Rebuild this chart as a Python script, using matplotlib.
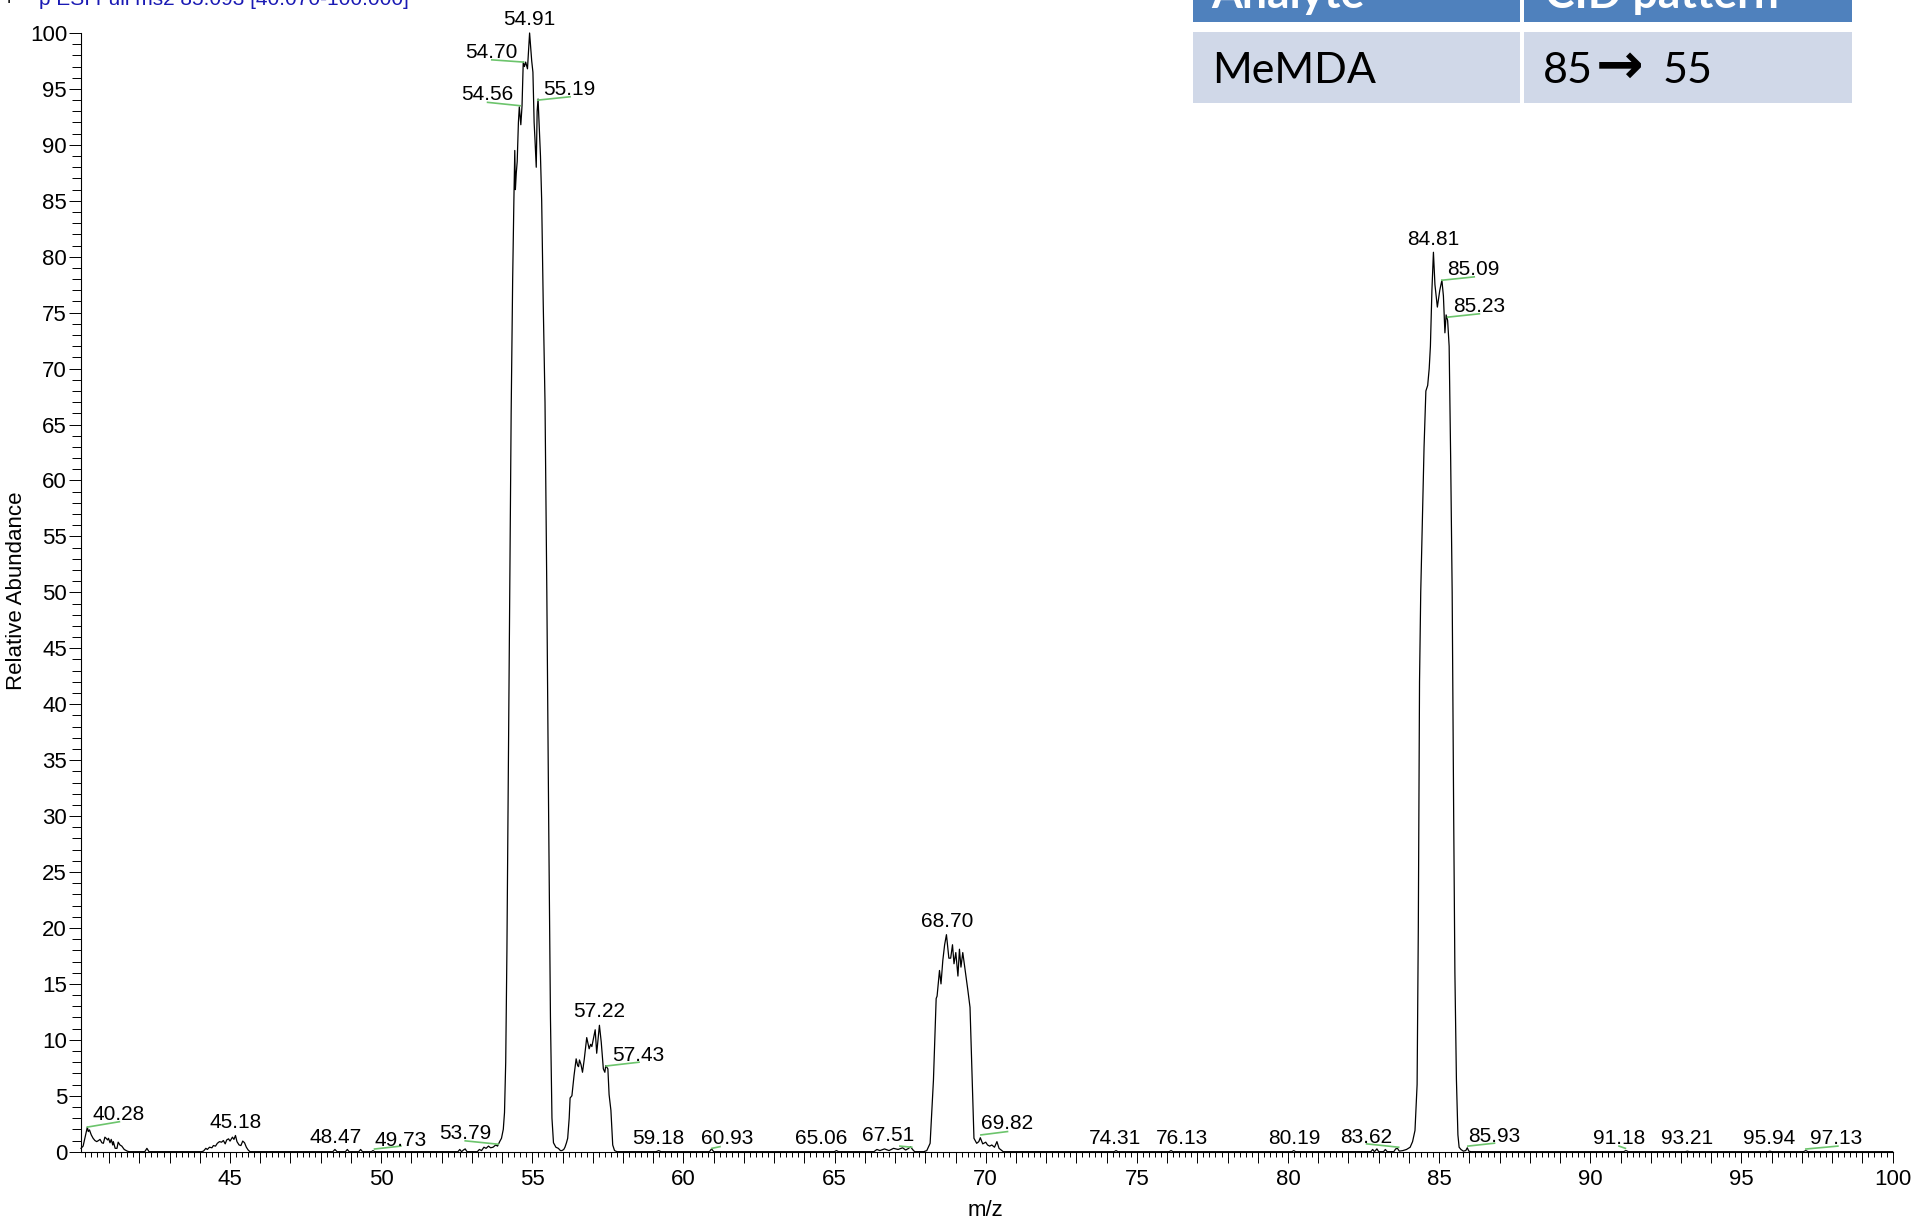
import numpy as np
import matplotlib
matplotlib.use("Agg")
from matplotlib import pyplot as plt
from matplotlib.patches import Rectangle
from matplotlib.ticker import MultipleLocator, FuncFormatter

plt.rcParams['font.family'] = ['Liberation Sans', 'DejaVu Sans']

W, H = 1917, 1223

# profile spectrum: (m/z, relative abundance)
seg_40 = [(40.07, 0.3), (40.14, 0.5), (40.28, 2.2), (40.31, 1.8), (40.35, 1.95), (40.41, 1.5),
          (40.47, 1.2), (40.53, 1.0), (40.59, 0.9), (40.65, 1.0), (40.70, 1.1), (40.76, 0.8),
          (40.81, 0.75), (40.86, 1.3), (40.90, 1.2), (40.95, 1.05), (40.98, 1.2), (41.03, 0.8),
          (41.07, 1.1), (41.12, 0.6), (41.14, 0.9), (41.20, 0.3), (41.26, 0.3), (41.30, 0.85),
          (41.36, 0.6), (41.42, 0.5), (41.50, 0.2), (41.60, 0.05), (41.66, 0.0),
          (42.18, 0.0), (42.25, 0.3), (42.32, 0.0)]
seg_45 = [(44.05, 0.0), (44.12, 0.05), (44.20, 0.3), (44.25, 0.2), (44.32, 0.4), (44.40, 0.35),
          (44.45, 0.55), (44.52, 0.5), (44.58, 0.75), (44.65, 0.9), (44.72, 0.85), (44.78, 1.0),
          (44.84, 0.7), (44.89, 1.05), (44.95, 1.15), (45.00, 0.95), (45.08, 1.3), (45.13, 1.1),
          (45.18, 1.45), (45.23, 0.9), (45.30, 0.6), (45.36, 0.55), (45.42, 0.95), (45.48, 0.8),
          (45.54, 0.4), (45.60, 0.15), (45.66, 0.0)]
seg_49 = [(48.40, 0.0), (48.47, 0.2), (48.54, 0.0), (48.82, 0.0), (48.88, 0.2), (48.94, 0.0),
          (49.26, 0.0), (49.32, 0.2), (49.38, 0.0), (49.68, 0.0), (49.73, 0.1), (49.78, 0.0),
          (52.54, 0.0), (52.60, 0.2), (52.66, 0.0), (52.72, 0.15), (52.78, 0.25), (52.84, 0.0),
          (53.18, 0.0), (53.25, 0.2), (53.32, 0.1), (53.40, 0.4), (53.47, 0.3), (53.55, 0.5),
          (53.62, 0.35), (53.70, 0.4), (53.79, 0.6), (53.85, 0.5), (53.92, 0.9)]
seg_55 = [(53.98, 1.2), (54.04, 2.0), (54.08, 3.5), (54.12, 8.0), (54.16, 18.0), (54.20, 32.0),
          (54.25, 50.0), (54.30, 66.0), (54.35, 78.0), (54.39, 85.0), (54.42, 89.5), (54.44, 86.0),
          (54.47, 87.5), (54.50, 88.5), (54.54, 92.0), (54.57, 93.4), (54.62, 91.8), (54.66, 93.5),
          (54.70, 97.4), (54.74, 97.0), (54.78, 97.4), (54.84, 96.8), (54.91, 100.0), (54.98, 97.5),
          (55.02, 96.5), (55.06, 92.0), (55.09, 90.4), (55.13, 88.0), (55.16, 93.0), (55.19, 94.1),
          (55.23, 91.5), (55.27, 89.0), (55.31, 85.0), (55.36, 76.0), (55.42, 67.0), (55.48, 50.0),
          (55.54, 30.0), (55.60, 12.0), (55.65, 3.0), (55.70, 0.8), (55.78, 0.4), (55.86, 0.3),
          (55.93, 0.1), (55.98, 0.1), (56.04, 0.2), (56.08, 0.4), (56.13, 0.8), (56.17, 1.2)]
seg_57 = [(56.22, 3.0), (56.25, 4.8), (56.31, 5.0), (56.38, 6.8), (56.45, 8.3), (56.50, 7.7),
          (56.53, 7.6), (56.56, 8.2), (56.61, 7.8), (56.66, 7.1), (56.72, 8.3), (56.80, 10.2),
          (56.84, 9.7), (56.88, 9.2), (56.93, 9.6), (56.97, 9.4), (57.02, 10.1), (57.08, 10.9),
          (57.13, 8.8), (57.22, 11.3), (57.28, 9.8), (57.35, 7.4), (57.40, 7.1), (57.43, 7.7),
          (57.50, 7.4), (57.54, 5.1), (57.60, 3.7), (57.66, 0.6), (57.72, 0.1), (57.80, 0.0)]
seg_67 = [(59.10, 0.0), (59.18, 0.1), (59.26, 0.0), (60.86, 0.0), (60.93, 0.25), (61.00, 0.0),
          (64.99, 0.0), (65.06, 0.1), (65.13, 0.0), (66.30, 0.0), (66.40, 0.2), (66.50, 0.1),
          (66.65, 0.25), (66.80, 0.1), (66.95, 0.3), (67.10, 0.2), (67.25, 0.35), (67.35, 0.15),
          (67.45, 0.3), (67.51, 0.45), (67.58, 0.2), (67.65, 0.0)]
seg_69 = [(67.95, 0.0), (68.05, 0.1), (68.16, 0.75), (68.27, 6.4), (68.36, 13.7), (68.39, 13.9),
          (68.47, 16.2), (68.52, 15.0), (68.58, 17.1), (68.64, 18.5), (68.70, 19.4), (68.78, 17.3),
          (68.84, 17.3), (68.90, 18.5), (68.95, 16.8), (69.01, 17.8), (69.08, 15.7), (69.13, 18.1),
          (69.18, 16.5), (69.24, 17.8), (69.32, 16.2), (69.41, 14.4), (69.48, 12.9), (69.61, 1.2),
          (69.70, 0.75), (69.77, 0.9), (69.82, 1.25), (69.90, 0.7), (70.00, 0.85), (70.06, 0.6),
          (70.13, 0.5), (70.20, 0.6), (70.29, 0.4), (70.37, 0.9), (70.44, 0.3), (70.58, 0.0)]
seg_80 = [(74.25, 0.0), (74.31, 0.1), (74.37, 0.0), (76.07, 0.0), (76.13, 0.1), (76.19, 0.0),
          (80.13, 0.0), (80.19, 0.1), (80.25, 0.0)]
seg_85 = [(82.74, 0.0), (82.80, 0.2), (82.86, 0.0), (82.94, 0.25), (83.00, 0.0), (83.16, 0.0),
          (83.22, 0.2), (83.28, 0.0), (83.50, 0.0), (83.56, 0.25), (83.62, 0.3), (83.68, 0.05),
          (83.80, 0.1), (83.92, 0.2), (84.04, 0.4), (84.12, 0.9), (84.20, 1.9), (84.27, 6.0),
          (84.31, 20.0), (84.35, 42.0), (84.39, 50.0), (84.44, 56.0), (84.50, 63.0), (84.56, 68.0),
          (84.62, 68.5), (84.67, 70.0), (84.71, 72.0), (84.76, 77.0), (84.81, 80.4), (84.86, 77.5),
          (84.94, 75.5), (85.02, 77.0), (85.09, 77.9), (85.14, 76.5), (85.19, 73.2), (85.23, 74.8),
          (85.28, 74.3), (85.33, 72.0), (85.38, 62.0), (85.43, 50.0), (85.48, 30.0), (85.52, 16.0),
          (85.57, 6.5), (85.62, 1.5), (85.66, 0.4), (85.72, 0.2), (85.80, 0.05), (85.88, 0.1),
          (85.93, 0.35), (85.98, 0.05), (86.05, 0.0)]
seg_95 = [(91.10, 0.0), (91.18, 0.1), (91.26, 0.0), (93.15, 0.0), (93.21, 0.05), (93.27, 0.0),
          (95.88, 0.0), (95.94, 0.05), (96.00, 0.0), (97.05, 0.0), (97.13, 0.1), (97.20, 0.0),
          (100.0, 0.0)]

# peak labels: text, text centre x, text baseline y, leader line (x0, y0, x1, y1) or None
peak_labels = [
    ("40.28", 41.32, 2.83, (40.28, 2.2, 41.34, 2.68)),
    ("45.18", 45.18, 2.09, None),
    ("48.47", 48.48, 0.76, None),
    ("49.73", 50.65, 0.55, (49.78, 0.24, 50.65, 0.5)),
    ("53.79", 52.79, 1.1, (52.78, 0.97, 53.87, 0.67)),
    ("54.56", 53.52, 94.0, (53.52, 93.8, 54.60, 93.5)),
    ("54.70", 53.64, 97.8, (53.66, 97.6, 54.71, 97.4)),
    ("54.91", 54.91, 100.7, None),
    ("55.19", 56.22, 94.45, (55.18, 94.0, 56.25, 94.3)),
    ("57.22", 57.22, 12.07, None),
    ("57.43", 58.50, 8.1, (57.44, 7.66, 58.53, 8.0)),
    ("59.18", 59.16, 0.67, None),
    ("60.93", 61.46, 0.67, (60.94, 0.3, 61.21, 0.45)),
    ("65.06", 64.57, 0.67, None),
    ("67.51", 66.78, 1.0, (67.16, 0.5, 67.55, 0.4)),
    ("68.70", 68.72, 20.06, None),
    ("69.82", 70.70, 2.0, (69.84, 1.5, 70.72, 1.8)),
    ("74.31", 74.28, 0.67, None),
    ("76.13", 76.50, 0.67, None),
    ("80.19", 80.22, 0.67, None),
    ("83.62", 82.57, 0.8, (82.60, 0.7, 83.66, 0.4)),
    ("84.81", 84.79, 81.05, None),
    ("85.09", 86.14, 78.4, (85.09, 77.9, 86.16, 78.2)),
    ("85.23", 86.31, 75.1, (85.28, 74.6, 86.33, 74.9)),
    ("85.93", 86.82, 0.9, (85.95, 0.5, 86.83, 0.76)),
    ("91.18", 90.96, 0.67, (90.95, 0.5, 91.16, 0.3)),
    ("93.21", 93.20, 0.67, None),
    ("95.94", 95.93, 0.67, None),
    ("97.13", 98.13, 0.67, (97.13, 0.24, 98.19, 0.5)),
]

table_head = ["Analyte", "CID pattern"]
table_row = ["MeMDA", ("85", "\u2192", "55")]
scan_header = "p ESI Full ms2 85.093 [40.070-100.000]"

spectrum = np.array(seg_40 + seg_45 + seg_49 + seg_55 + seg_57 + seg_67 + seg_69
                    + seg_80 + seg_85 + seg_95)
mz, ab = spectrum[:, 0], spectrum[:, 1]

fig = plt.figure(figsize=(W / 100, H / 100), dpi=100)
x0, x1 = 81, 1892.6
y0, y1 = 1151.7, 33.0
ax = fig.add_axes([x0 / W, 1 - y0 / H, (x1 - x0) / W, (y0 - y1) / H])

ax.plot(mz, ab, color='black', lw=0.9, clip_on=False, zorder=3)
ax.set_xlim(40.07, 100)
ax.set_ylim(0, 100)

for s in ['top', 'right']:
    ax.spines[s].set_visible(False)
for s in ['left', 'bottom']:
    ax.spines[s].set_linewidth(0.8)

ax.xaxis.set_major_locator(MultipleLocator(1))
ax.xaxis.set_minor_locator(MultipleLocator(0.2))
ax.xaxis.set_major_formatter(FuncFormatter(lambda v, p: f"{v:.0f}" if round(v) % 5 == 0 else ""))
ax.yaxis.set_major_locator(MultipleLocator(5))
ax.yaxis.set_minor_locator(MultipleLocator(1))
ax.tick_params(axis='x', which='major', length=7.7, width=0.7, pad=5, labelsize=16)
ax.tick_params(axis='x', which='minor', length=3.4, width=0.7)
ax.tick_params(axis='y', which='major', length=9, width=0.7, pad=1, labelsize=16)
ax.tick_params(axis='y', which='minor', length=6.8, width=0.7)

green = '#6cc46c'
for text, tx, ty, lead in peak_labels:
    ax.text(tx, ty, text, ha='center', va='baseline', fontsize=15, clip_on=False, zorder=5)
    if lead is not None:
        ax.plot([lead[0], lead[2]], [lead[1], lead[3]], color=green, lw=1.2,
                clip_on=False, zorder=4)

fig.text(985 / W, 1 - 1210 / H, "m/z", ha='center', va='center', fontsize=16)
fig.text(17 / W, 1 - 591 / H, "Relative Abundance", ha='center', va='center',
         rotation=90, fontsize=16)

# scan header, cut off by the top edge as in the reference
fig.text(3 / W, 1 - 5 / H, "+", color='black', fontsize=15, va='baseline')
fig.text(39 / W, 1 - 5 / H, scan_header, color='#1a1ab4', fontsize=15, va='baseline')

# pasted table in the upper right
def px_rect(xa, ya, xb, yb, color):
    fig.add_artist(Rectangle((xa / W, 1 - yb / H), (xb - xa) / W, (yb - ya) / H,
                             transform=fig.transFigure, facecolor=color,
                             edgecolor='none', zorder=1))

px_rect(1193, -5, 1520, 22, '#4f81bd')
px_rect(1524, -5, 1852, 22, '#4f81bd')
px_rect(1193, 32, 1520, 103, '#d0d8e8')
px_rect(1524, 32, 1852, 103, '#d0d8e8')
tfam = ['Lato', 'DejaVu Sans']
for lx, head in zip([1211.7, 1545], table_head):
    fig.text(lx / W, 1 - 8 / H, head, color='white', fontsize=32, fontweight='bold',
             family=tfam, va='baseline', zorder=2)
fig.text(1211.7 / W, 1 - 83 / H, table_row[0], color='black', fontsize=31,
         family=tfam, va='baseline', zorder=2)
for lx, part, fam, wt, fs in zip([1543, 1596, 1663], table_row[1],
                                 [tfam, ['DejaVu Sans'], tfam],
                                 ['normal', 'bold', 'normal'], [31, 41, 31]):
    fig.text(lx / W, 1 - 83 / H, part, color='black', fontsize=fs, family=fam,
             fontweight=wt, va='baseline', zorder=2)

fig.savefig('out.png', dpi=100)
